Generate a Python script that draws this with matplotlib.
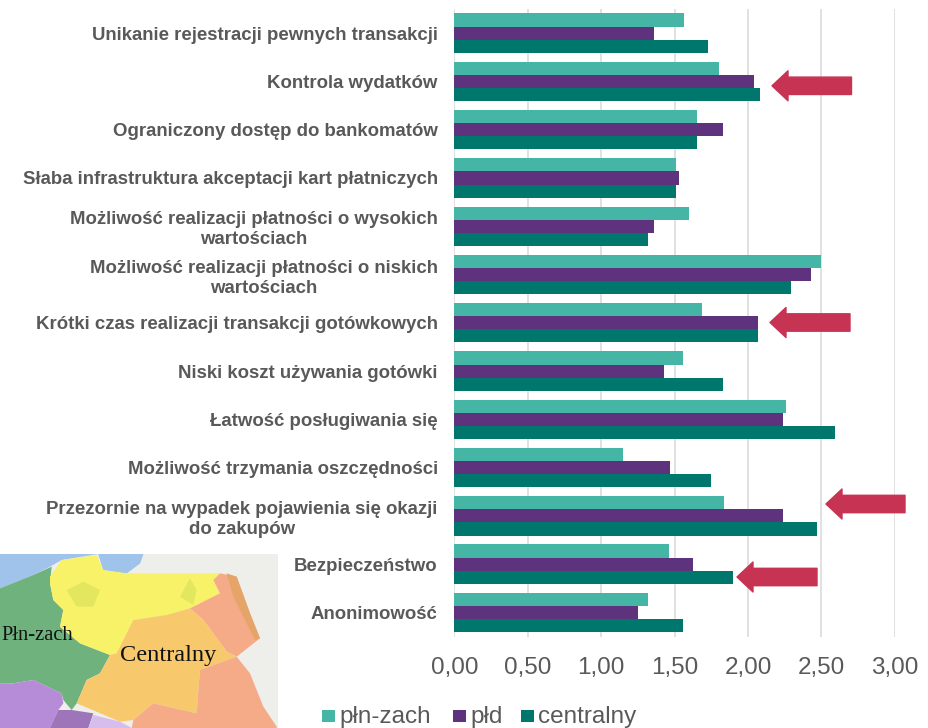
#!/usr/bin/env python3
import numpy as np
import matplotlib
matplotlib.use("Agg")
import matplotlib.pyplot as plt
from matplotlib.patches import Polygon

plt.rcParams['font.family'] = ['Liberation Sans', 'DejaVu Sans']

categories = [
    "Unikanie rejestracji pewnych transakcji",
    "Kontrola wydatków",
    "Ograniczony dostęp do bankomatów",
    "Słaba infrastruktura akceptacji kart płatniczych",
    "Możliwość realizacji płatności o wysokich\nwartościach",
    "Możliwość realizacji płatności o niskich\nwartościach",
    "Krótki czas realizacji transakcji gotówkowych",
    "Niski koszt używania gotówki",
    "Łatwość posługiwania się",
    "Możliwość trzymania oszczędności",
    "Przezornie na wypadek pojawienia się okazji\ndo zakupów",
    "Bezpieczeństwo",
    "Anonimowość",
]
pln_zach = [1.565, 1.80, 1.65, 1.51, 1.60, 2.50, 1.69, 1.56, 2.26, 1.15, 1.84, 1.46, 1.32]
pld = [1.36, 2.04, 1.83, 1.53, 1.36, 2.43, 2.07, 1.43, 2.24, 1.47, 2.24, 1.625, 1.25]
centralny = [1.73, 2.08, 1.65, 1.51, 1.32, 2.29, 2.07, 1.83, 2.59, 1.75, 2.47, 1.90, 1.56]
xticks = [0, 0.5, 1, 1.5, 2, 2.5, 3]
series_names = ["płn-zach", "płd", "centralny"]
series_colors = ["#45b5a6", "#5e327c", "#00776d"]
TEXT = "#595959"

W, H = 929, 728
fig = plt.figure(figsize=(W / 100, H / 100), dpi=100)

# main axes, pixel box of the plot area
left, right, top, bottom = 454.5, 894.7, 9, 636.6
ax = fig.add_axes([left / W, 1 - bottom / H, (right - left) / W, (bottom - top) / H])
y = np.arange(len(categories))
h = 0.272
for off, vals, c, n in zip([-h, 0, h], [pln_zach, pld, centralny], series_colors, series_names):
    ax.barh(y + off, vals, h, color=c, label=n, zorder=3)
ax.set_xlim(0, 3)
ax.set_ylim(12.5, -0.5)
ax.set_xticks(xticks)
ax.set_xticklabels([("%.2f" % v).replace(".", ",") for v in xticks])
ax.tick_params(axis="x", length=0, labelsize=17.5, labelcolor=TEXT, pad=15)
ax.set_yticks(y)
ax.set_yticklabels(categories, fontweight="bold", fontsize=13.45, color=TEXT, linespacing=1.25, multialignment="center")
ax.tick_params(axis="y", length=0, pad=12)
ax.grid(axis="x", color="#d9d9d9", lw=1.1, zorder=0)
for s in ax.spines.values():
    s.set_visible(False)

# overlay in pixel coordinates for map and arrows
ov = fig.add_axes([0, 0, 1, 1], zorder=5)
ov.set_xlim(0, W)
ov.set_ylim(H, 0)
ov.axis("off")


def map_shape(pts, color, alpha=1.0):
    # traced on a 3x crop starting at y=540
    ov.add_patch(Polygon([(px / 3, 540 + py / 3) for px, py in pts], fc=color, ec="none", alpha=alpha))


map_shape([(0, 42), (833, 42), (833, 564), (0, 564)], "#eeeeea")
map_shape([(0, 42), (295, 42), (310, 90), (380, 100), (420, 70), (430, 42), (300, 42), (295, 42),
           (185, 60), (150, 80), (100, 105), (0, 145)], "#9fc3ea")
map_shape([(295, 42), (430, 42), (420, 70), (380, 100), (310, 90)], "#9fc3ea")
map_shape([(0, 145), (100, 105), (155, 80), (150, 130), (160, 180), (190, 210), (180, 260), (240, 310),
           (330, 345), (300, 400), (260, 420), (230, 490), (215, 510), (190, 480), (185, 460), (100, 420),
           (40, 430), (0, 430)], "#6fb27d")
map_shape([(150, 110), (185, 60), (290, 45), (310, 90), (380, 100), (660, 100), (640, 120), (660, 160),
           (570, 205), (500, 225), (400, 240), (370, 300), (350, 340), (330, 345), (240, 310), (180, 260),
           (190, 210), (160, 180), (150, 130)], "#f8f269")
map_shape([(200, 150), (250, 125), (300, 150), (280, 200), (230, 200)], "#e3e75f")
map_shape([(540, 170), (570, 115), (590, 150), (580, 195)], "#e3e75f")
map_shape([(660, 100), (710, 110), (750, 220), (780, 295), (710, 350), (680, 335), (610, 240), (570, 205),
           (660, 160), (640, 120)], "#f5ab88")
map_shape([(680, 100), (710, 110), (750, 220), (780, 295), (765, 300), (735, 240), (700, 170)], "#e5a468")
map_shape([(570, 205), (610, 240), (680, 335), (710, 350), (600, 390), (590, 520), (460, 490), (400, 540),
           (360, 545), (230, 490), (260, 420), (300, 400), (330, 345), (350, 340), (370, 300), (400, 240),
           (500, 225)], "#f8c96c")
map_shape([(710, 350), (750, 400), (790, 500), (830, 560), (830, 564), (395, 564), (400, 540), (460, 490),
           (590, 520), (600, 390)], "#f5ab88")
map_shape([(0, 430), (40, 430), (100, 420), (185, 460), (190, 490), (175, 510), (150, 564), (0, 564)], "#b68bd8")
map_shape([(175, 510), (215, 510), (280, 520), (265, 564), (150, 564)], "#9d75b8")
map_shape([(280, 525), (360, 545), (395, 564), (265, 564)], "#d6bdee")
ov.text(73, 636, "Płn-zach", family="Liberation Serif", fontsize=14.8, color="#111111", ha="right", va="center")
ov.text(168.5, 656, "Centralny", family="Liberation Serif", fontsize=17.6, color="#111111", ha="center", va="center")

# red arrows (tip x, tail x, centre y)
arrow_x = [(772, 851.5, 85.8), (770, 850, 322.5), (826, 905, 504), (737, 817, 577)]
for tip, tail, cy in arrow_x:
    ov.add_patch(Polygon([(tip, cy), (tip + 16, cy - 15), (tip + 16, cy - 8.7), (tail, cy - 8.7),
                          (tail, cy + 8.7), (tip + 16, cy + 8.7), (tip + 16, cy + 15)],
                         fc="#c73352", ec="#c73352", lw=1, joinstyle="round"))

# legend drawn by hand to fit the spacing
lx = [322, 453, 521]
for xx, n, c in zip(lx, series_names, series_colors):
    ov.add_patch(Polygon([(xx, 710), (xx + 13, 710), (xx + 13, 722), (xx, 722)], fc=c, ec="none"))
    ov.text(xx + 17, 716.5, n, fontsize=17.5, color=TEXT, ha="left", va="center")

fig.savefig("out.png", dpi=100)
